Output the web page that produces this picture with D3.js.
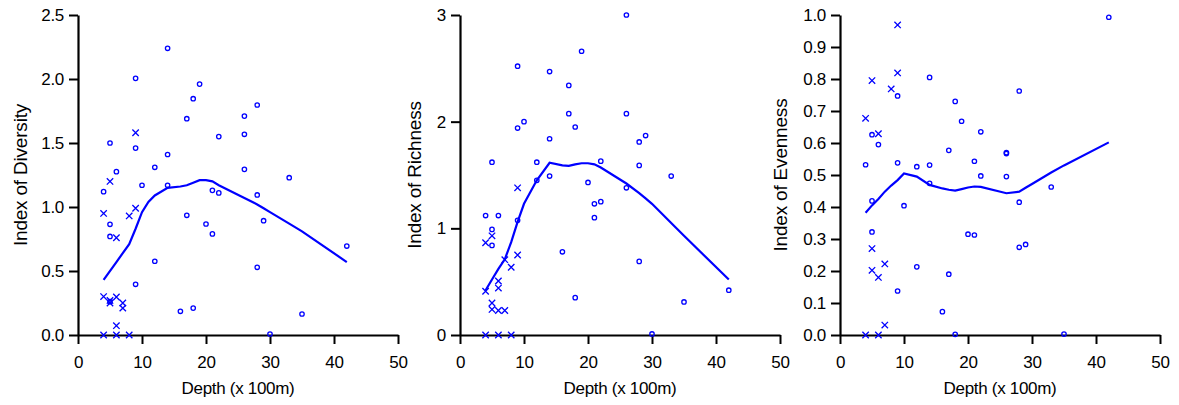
<!DOCTYPE html>
<html>
<head>
<meta charset="utf-8">
<script src="https://cdn.jsdelivr.net/npm/d3@7"></script>
<style>
  body { margin: 0; background: #fff; }
  text { font-family: "Liberation Sans", Arial, sans-serif; }
</style>
</head>
<body>
<div id="chart"></div>
<script>
// depth in units of 100 m
const diversityCircles = [
  [14, 2.24], [9, 2.005], [19, 1.96], [18, 1.846], [17, 1.69], [22, 1.55], [5, 1.50], [9, 1.46],
  [14, 1.41], [12, 1.31], [6, 1.276], [4, 1.12], [10, 1.17], [14, 1.17], [21, 1.13], [22, 1.11],
  [5, 0.865], [17, 0.935], [20, 0.867], [21, 0.79], [5, 0.77], [12, 0.576], [9, 0.396], [5, 0.26],
  [16, 0.185], [18, 0.21], [28, 1.797], [26, 1.71], [26, 1.568], [26, 1.294], [33, 1.229],
  [28, 1.094], [29, 0.893], [42, 0.695], [28, 0.529], [35, 0.164], [30, 0.008]
]
const diversityCrosses = [
  [9, 1.58], [5, 1.20], [4, 0.95], [8, 0.93], [9, 0.99], [6, 0.76], [4, 0.30], [5, 0.27],
  [6, 0.297], [5, 0.25], [7, 0.25], [7, 0.21], [6, 0.073], [4, 0], [6, 0], [8, 0]
]
const diversityFit = [
  [4, 0.43], [6, 0.57], [8, 0.71], [9, 0.83], [10, 0.96], [11, 1.04], [12, 1.09], [14, 1.15],
  [16, 1.16], [17, 1.17], [18, 1.19], [19, 1.21], [20, 1.21], [21, 1.20], [22, 1.17], [26, 1.07],
  [28, 1.02], [29, 0.99], [30, 0.96], [33, 0.87], [35, 0.81], [42, 0.57]
]

const richnessCircles = [
  [19, 2.66], [9, 2.52], [14, 2.47], [17, 2.34], [17, 2.075], [10, 2.0], [9, 1.94], [18, 1.95],
  [14, 1.84], [5, 1.62], [12, 1.62], [14, 1.49], [22, 1.63], [12, 1.45], [20, 1.43], [21, 1.23],
  [22, 1.25], [21, 1.10], [4, 1.12], [6, 1.12], [9, 1.075], [5, 0.99], [5, 0.84], [16, 0.78],
  [18, 0.35], [26, 3.0], [26, 2.075], [29, 1.87], [28, 1.81], [28, 1.59], [33, 1.49], [26, 1.38],
  [28, 0.69], [42, 0.42], [35, 0.31], [30, 0.01]
]
const richnessCrosses = [
  [9, 1.38], [5, 0.93], [4, 0.865], [9, 0.75], [7, 0.706], [8, 0.635], [6, 0.506], [6, 0.44],
  [4, 0.41], [5, 0.30], [5, 0.24], [6, 0.23], [7, 0.23], [4, 0], [6, 0], [8, 0]
]
const richnessFit = [
  [4, 0.42], [5, 0.52], [6, 0.62], [7, 0.71], [8, 0.87], [9, 1.06], [10, 1.23], [12, 1.45],
  [14, 1.615], [16, 1.59], [17, 1.585], [18, 1.60], [19, 1.61], [20, 1.61], [21, 1.60],
  [22, 1.57], [26, 1.42], [28, 1.33], [29, 1.28], [30, 1.23], [33, 1.05], [35, 0.93], [42, 0.52]
]

const evennessCircles = [
  [14, 0.805], [9, 0.747], [18, 0.73], [19, 0.668], [5, 0.626], [22, 0.635], [6, 0.595],
  [17, 0.577], [4, 0.532], [9, 0.538], [12, 0.526], [14, 0.531], [21, 0.543], [22, 0.497],
  [5, 0.419], [10, 0.404], [14, 0.474], [5, 0.322], [20, 0.315], [21, 0.3125], [12, 0.213],
  [17, 0.19], [9, 0.1375], [16, 0.073], [18, 0.002], [42, 0.993], [28, 0.7625], [26, 0.567],
  [26, 0.57], [26, 0.495], [33, 0.4625], [28, 0.415], [28, 0.274], [29, 0.283], [35, 0.003]
]
const evennessCrosses = [
  [9, 0.969], [9, 0.819], [5, 0.795], [8, 0.769], [4, 0.677], [6, 0.629], [5, 0.27],
  [5, 0.202], [6, 0.18], [7, 0.222], [7, 0.031], [4, 0], [6, 0]
]
const evennessFit = [
  [4, 0.382], [5, 0.405], [6, 0.425], [7, 0.448], [8, 0.467], [9, 0.484], [10, 0.505],
  [12, 0.495], [14, 0.469], [16, 0.458], [17, 0.454], [18, 0.451], [19, 0.456], [20, 0.461],
  [21, 0.464], [22, 0.463], [26, 0.443], [28, 0.448], [29, 0.46], [30, 0.472], [33, 0.508],
  [35, 0.53], [42, 0.602]
]

const xTicks = [0, 10, 20, 30, 40, 50]
const diversityTicks = [0, 0.5, 1.0, 1.5, 2.0, 2.5]
const richnessTicks = [0, 1, 2, 3]
const evennessTicks = [0, 0.1, 0.2, 0.3, 0.4, 0.5, 0.6, 0.7, 0.8, 0.9, 1.0]

const panels = [
  { left: 78, title: "Index of Diversity", titleX: -51, max: 2.5, ticks: diversityTicks, fmt: ".1f",
    circles: diversityCircles, crosses: diversityCrosses, fit: diversityFit },
  { left: 460, title: "Index of Richness", titleX: -39, max: 3, ticks: richnessTicks, fmt: "d",
    circles: richnessCircles, crosses: richnessCrosses, fit: richnessFit },
  { left: 840, title: "Index of Evenness", titleX: -53, max: 1, ticks: evennessTicks, fmt: ".1f",
    circles: evennessCircles, crosses: evennessCrosses, fit: evennessFit }
]

const W = 1179, H = 405
const marginTop = 15, plotW = 320, plotH = 320
const blue = "#0000ff"

const svg = d3.select("#chart").append("svg")
  .attr("width", W)
  .attr("height", H)

panels.forEach((p) => {
  const g = svg.append("g").attr("transform", `translate(${p.left},${marginTop})`)

  const x = d3.scaleLinear().domain([0, 50]).range([0, plotW])
  const y = d3.scaleLinear().domain([0, p.max]).range([plotH, 0])

  const xAxis = g.append("g")
    .attr("transform", `translate(0,${plotH})`)
    .call(d3.axisBottom(x).tickValues(xTicks).tickSize(9).tickSizeOuter(0).tickPadding(12))
  const yAxis = g.append("g")
    .call(d3.axisLeft(y).tickValues(p.ticks).tickFormat(d3.format(p.fmt)).tickSize(9).tickSizeOuter(0).tickPadding(5))

  ;[xAxis, yAxis].forEach((a) => {
    a.select(".domain").attr("stroke", "#000").attr("stroke-width", 2.2)
    a.selectAll(".tick line").attr("stroke", "#000").attr("stroke-width", 2)
    a.selectAll(".tick text").attr("font-size", "17px").attr("fill", "#000")
      .attr("font-family", "'Liberation Sans', Arial, sans-serif")
      .attr("letter-spacing", "-0.3px")
  })

  g.append("text")
    .attr("transform", `translate(${p.titleX},${plotH / 2}) rotate(-90)`)
    .attr("text-anchor", "middle")
    .attr("font-size", "19px")
    .attr("fill", "#000")
    .attr("letter-spacing", "-0.2px")
    .text(p.title)

  g.append("text")
    .attr("x", plotW / 2)
    .attr("y", plotH + 59)
    .attr("text-anchor", "middle")
    .attr("font-size", "17px")
    .attr("fill", "#000")
    .attr("letter-spacing", "-0.3px")
    .text("Depth (x 100m)")

  const line = d3.line().x((d) => x(d[0])).y((d) => y(d[1]))
  g.append("path")
    .datum(p.fit)
    .attr("d", line)
    .attr("fill", "none")
    .attr("stroke", blue)
    .attr("stroke-width", 2.2)

  g.selectAll(".circ")
    .data(p.circles)
    .enter()
    .append("circle")
    .attr("class", "circ")
    .attr("cx", (d) => x(d[0]))
    .attr("cy", (d) => y(d[1]))
    .attr("r", 2.2)
    .attr("fill", "none")
    .attr("stroke", blue)
    .attr("stroke-width", 1.3)

  const s = 3.2
  g.selectAll(".cross")
    .data(p.crosses)
    .enter()
    .append("path")
    .attr("class", "cross")
    .attr("transform", (d) => `translate(${x(d[0])},${y(d[1])})`)
    .attr("d", `M${-s},${-s}L${s},${s}M${-s},${s}L${s},${-s}`)
    .attr("stroke", blue)
    .attr("stroke-width", 1.3)
    .attr("fill", "none")
})
</script>
</body>
</html>
